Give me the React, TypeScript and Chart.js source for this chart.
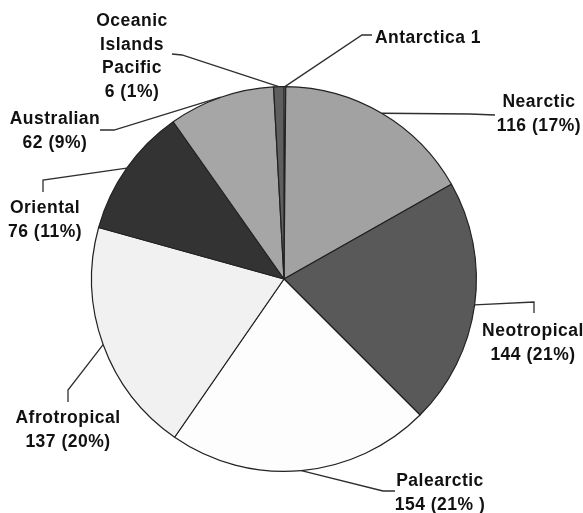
import React, { useEffect, useRef } from "react";
import { Chart, registerables } from "chart.js";

Chart.register(...registerables);

// ---- data ----
const categories = [
  "Antarctica",
  "Nearctic",
  "Neotropical",
  "Palearctic",
  "Afrotropical",
  "Oriental",
  "Australian",
  "Oceanic Islands Pacific",
];
const counts = [1, 116, 144, 154, 137, 76, 62, 6];
const labelLines = [
  ["Antarctica 1"],
  ["Nearctic", "116 (17%)"],
  ["Neotropical", "144 (21%)"],
  ["Palearctic", "154 (21% )"],
  ["Afrotropical", "137 (20%)"],
  ["Oriental", "76 (11%)"],
  ["Australian", "62 (9%)"],
  ["Oceanic", "Islands", "Pacific", "6 (1%)"],
];

// ---- styles / layout ----
const sliceColors = [
  "#ffffff",
  "#a2a2a2",
  "#595959",
  "#fdfdfd",
  "#f1f1f1",
  "#333333",
  "#a6a6a6",
  "#5e5e5e",
];

// leader line elbows (after the arc edge point) and text anchor (center x, first baseline y)
const leaderLayout = [
  { path: [[362, 35], [372, 35]], text: [428, 43] },
  { path: [[470, 114], [495, 115]], text: [539, 107] },
  { path: [[534, 302], [534, 313]], text: [533, 336] },
  { path: [[383, 491], [395, 491]], text: [440, 486] },
  { path: [[68, 390], [68, 402]], text: [68, 423] },
  { path: [[43, 180], [43, 192]], text: [45, 213] },
  { path: [[114, 130], [100, 130]], text: [55, 124] },
  { path: [[182, 55], [172, 54]], text: [132, 26] },
];
const lineHeight = 23.5;

const leaderPlugin = {
  id: "leaders",
  afterDatasetsDraw(chart: any) {
    const ctx = chart.ctx;
    const meta = chart.getDatasetMeta(0);
    ctx.save();
    meta.data.forEach((arc: any, i: number) => {
      const p = arc.getProps(["x", "y", "startAngle", "endAngle", "outerRadius"], true);
      const mid = (p.startAngle + p.endAngle) / 2;
      const sx = p.x + Math.cos(mid) * p.outerRadius;
      const sy = p.y + Math.sin(mid) * p.outerRadius;
      const lay = leaderLayout[i];
      ctx.beginPath();
      ctx.moveTo(sx, sy);
      lay.path.forEach(([x, y]) => ctx.lineTo(x, y));
      ctx.strokeStyle = "#2e2e2e";
      ctx.lineWidth = 1.3;
      ctx.stroke();
      ctx.fillStyle = "#111111";
      ctx.font = "bold 17.5px 'Liberation Sans', Arial, sans-serif";
      (ctx as any).letterSpacing = "0.5px";
      ctx.textAlign = "center";
      ctx.textBaseline = "alphabetic";
      labelLines[i].forEach((t, k) => {
        ctx.fillText(t, lay.text[0], lay.text[1] + k * lineHeight);
      });
    });
    ctx.restore();
  },
};

export default function App() {
  const ref = useRef<HTMLCanvasElement | null>(null);
  useEffect(() => {
    document.body.style.margin = "0";
    const chart = new Chart(ref.current as HTMLCanvasElement, {
      type: "pie",
      data: {
        labels: categories,
        datasets: [
          {
            data: counts,
            backgroundColor: sliceColors,
            borderColor: "#222222",
            borderWidth: 1.2,
          },
        ],
      },
      options: {
        responsive: false,
        animation: false,
        layout: { padding: { top: 86, bottom: 41, left: 91, right: 106 } },
        plugins: {
          legend: { display: false },
          tooltip: { enabled: false },
        },
      },
      plugins: [leaderPlugin],
    });
    return () => chart.destroy();
  }, []);
  return (
    <div style={{ width: 583, height: 513, background: "#fff" }}>
      <canvas ref={ref} width={583} height={513} style={{ display: "block" }} />
    </div>
  );
}
